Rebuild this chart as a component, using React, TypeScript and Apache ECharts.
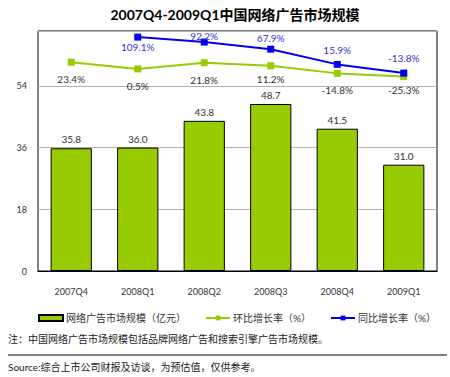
import React, { useEffect, useRef } from "react";
import * as echarts from "echarts";

const categories = ["2007Q4", "2008Q1", "2008Q2", "2008Q3", "2008Q4", "2009Q1"];
const marketSize = [35.8, 36.0, 43.8, 48.7, 41.5, 31.0];
const qoqGrowth = [23.4, 0.5, 21.8, 11.2, -14.8, -25.3];
const yoyGrowth: (number | null)[] = [null, 109.1, 92.2, 67.9, 15.9, -13.8];
const leftTicks = [0, 18, 36, 54];

// label placement tweaks (vertical offsets from the point, px)
const qoqLabelDy = [17, 17, 17, 13, 17, 14];
const yoyLabelDy = [0, 10, -6, -11, -14, -15];

const FONT = "Lato, 'Noto Sans CJK SC', sans-serif";

export default function App() {
  const ref = useRef<HTMLDivElement>(null);
  useEffect(() => {
    if (!ref.current) return;
    const chart = echarts.init(ref.current, undefined, { renderer: "svg" });
    chart.setOption({
      animation: false,
      backgroundColor: "#fff",
      textStyle: { fontFamily: FONT },
      title: {
        text: "2007Q4-2009Q1中国网络广告市场规模",
        left: 230,
        textAlign: "center",
        top: 2,
        textStyle: { fontSize: 14, fontWeight: "bold", color: "#000", fontFamily: FONT },
      },
      grid: {
        left: 38,
        right: 13,
        top: 31,
        bottom: 106,
        show: true,
        borderColor: "#000",
        borderWidth: 1,
        backgroundColor: "transparent",
      },
      legend: {
        left: 33,
        top: 308,
        itemGap: 19,
        itemWidth: 24,
        itemHeight: 6,
        textStyle: { fontSize: 10, color: "#333", fontFamily: FONT, padding: [0, 0, 0, -2] },
        data: [
          { name: "网络广告市场规模（亿元）", icon: "rect" },
          { name: "环比增长率（%）" },
          { name: "同比增长率（%）" },
        ],
      },
      xAxis: {
        type: "category",
        data: categories,
        axisLine: { lineStyle: { color: "#000", width: 1 } },
        axisTick: { show: false },
        axisLabel: { fontSize: 9, color: "#333", margin: 16, fontFamily: FONT },
      },
      yAxis: [
        {
          type: "value",
          min: leftTicks[0],
          max: 70,
          interval: leftTicks[1] - leftTicks[0],
          axisLine: { show: false },
          axisTick: { show: false },
          axisLabel: { fontSize: 9, color: "#333", margin: 11, showMaxLabel: false, fontFamily: FONT },
          splitLine: { lineStyle: { color: "#b0b0b0", width: 1 } },
        },
        {
          type: "value",
          min: -690,
          max: 130,
          show: false,
          splitLine: { show: false },
        },
      ],
      series: [
        {
          name: "网络广告市场规模（亿元）",
          type: "bar",
          data: marketSize,
          barWidth: "62%",
          itemStyle: { color: "#99CC00", borderColor: "#000", borderWidth: 1 },
          label: {
            show: true,
            position: "top",
            distance: 4,
            fontSize: 10,
            color: "#333",
            fontFamily: FONT,
            formatter: (p: any) => p.value.toFixed(1),
          },
        },
        {
          name: "环比增长率（%）",
          type: "line",
          yAxisIndex: 1,
          data: qoqGrowth.map((v, i) => ({
            value: v,
            label: { offset: [0, qoqLabelDy[i]] },
          })),
          symbol: "rect",
          symbolSize: 7,
          lineStyle: { color: "#99CC00", width: 2 },
          itemStyle: { color: "#99CC00" },
          label: {
            show: true,
            position: "inside",
            fontSize: 10,
            color: "#333",
            fontFamily: FONT,
            formatter: (p: any) => p.value + "%",
          },
        },
        {
          name: "同比增长率（%）",
          type: "line",
          yAxisIndex: 1,
          data: yoyGrowth.map((v, i) => ({
            value: v,
            label: { offset: [0, yoyLabelDy[i]] },
          })),
          symbol: "rect",
          symbolSize: 7,
          lineStyle: { color: "#0000EE", width: 2 },
          itemStyle: { color: "#0000EE" },
          label: {
            show: true,
            position: "inside",
            fontSize: 10,
            color: "#3333CC",
            fontFamily: FONT,
            formatter: (p: any) => p.value + "%",
          },
        },
      ],
      graphic: [
        {
          type: "text",
          left: 8,
          top: 334,
          style: {
            text: "注：中国网络广告市场规模包括品牌网络广告和搜索引擎广告市场规模。",
            fontSize: 10,
            fill: "#222",
            fontFamily: FONT,
          },
        },
        {
          type: "line",
          shape: { x1: 8, y1: 355, x2: 447, y2: 355 },
          style: { stroke: "#000", lineWidth: 1 },
        },
        {
          type: "text",
          left: 8,
          top: 362,
          style: {
            text: "Source:综合上市公司财报及访谈，为预估值，仅供参考。",
            fontSize: 10,
            fill: "#222",
            fontFamily: FONT,
          },
        },
      ],
    });
    return () => chart.dispose();
  }, []);
  return (
    <div style={{ position: "absolute", left: 0, top: 0 }}>
      <div ref={ref} style={{ width: 450, height: 377 }} />
    </div>
  );
}
